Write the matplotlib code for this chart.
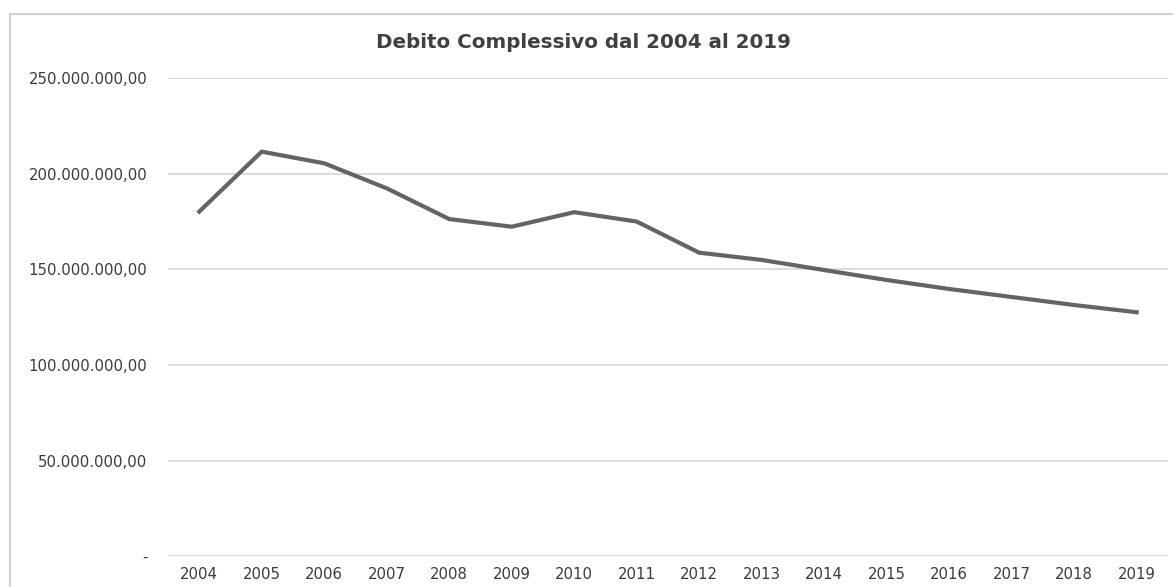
import matplotlib.pyplot as plt
from matplotlib.patches import Rectangle
from matplotlib.ticker import FuncFormatter

plt.rcParams['font.family'] = ['DejaVu Sans']

# Debito complessivo per anno (euro)
anni = ['2004', '2005', '2006', '2007', '2008', '2009', '2010', '2011',
        '2012', '2013', '2014', '2015', '2016', '2017', '2018', '2019']
debito = [180.3e6, 211.7e6, 205.6e6, 192.5e6, 176.4e6, 172.4e6, 180.0e6, 175.1e6,
          158.8e6, 155.0e6, 149.7e6, 144.5e6, 139.8e6, 135.6e6, 131.4e6, 127.6e6]
y_ticks = [0, 50e6, 100e6, 150e6, 200e6, 250e6]


def formato_it(v, pos):
    # formato italiano: punto per le migliaia, virgola per i decimali
    if v == 0:
        return '-'
    s = f'{v:,.2f}'
    return s.replace(',', 'X').replace('.', ',').replace('X', '.')


fig = plt.figure(figsize=(11.73, 5.87), dpi=100)
ax = fig.add_axes([0.1432, 0.0528, 0.8525, 0.8135])

# cornice grigia del grafico
fig.patches.append(Rectangle((10 / 1173, -0.1), 1.2, 1 - 14 / 587 + 0.1,
                             transform=fig.transFigure, fill=False,
                             edgecolor='#d0d0d0', linewidth=1.5))

x = range(len(anni))
ax.plot(x, debito, color='#646464', linewidth=3, solid_joinstyle='miter')

ax.set_xlim(-0.5, len(anni) - 0.5)
ax.set_ylim(0, 250e6)
ax.set_xticks(list(x))
ax.set_xticklabels(anni)
ax.set_yticks(y_ticks)
ax.yaxis.set_major_formatter(FuncFormatter(formato_it))

ax.grid(axis='y', color='#d9d9d9', linewidth=1.3)
ax.set_axisbelow(True)
for s in ax.spines.values():
    s.set_visible(False)
ax.tick_params(axis='both', length=0, labelsize=10.7, labelcolor='#3a3a3a')
ax.tick_params(axis='y', pad=15)
ax.tick_params(axis='x', pad=8)

fig.text(0.497, 0.928, 'Debito Complessivo dal 2004 al 2019', ha='center', va='center',
         fontsize=14.3, fontweight='bold', color='#404040')

plt.savefig('out.png', dpi=100)
